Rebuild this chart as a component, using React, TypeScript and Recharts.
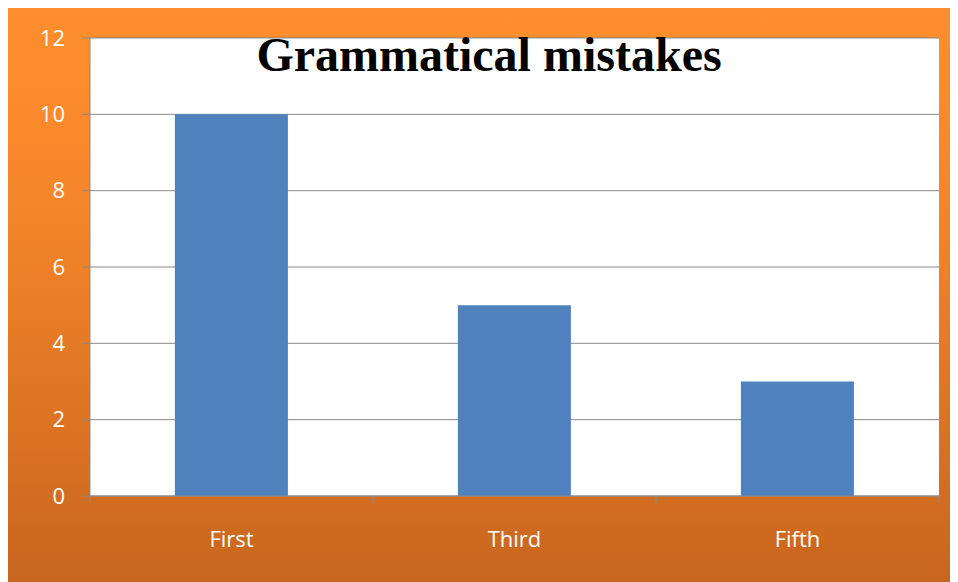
import { BarChart, Bar, XAxis, YAxis, CartesianGrid } from "recharts";

const categories = ["First", "Third", "Fifth"];
const mistakes = [10, 5, 3];
const yTicks = [0, 2, 4, 6, 8, 10, 12];

const chartData = categories.map((name, i) => ({ name, mistakes: mistakes[i] }));

const GRID = "#8a8a8a";

// label plus the little tick marks that sit on the category edges
function EdgeTick(props: any) {
  const { x, y, payload } = props;
  const half = payload && typeof payload.offset === "number" ? payload.offset : 0;
  const axisY = y - 8;
  return (
    <g>
      {half > 0 && (
        <>
          <line x1={x - half} x2={x - half} y1={axisY} y2={axisY + 7} stroke={GRID} />
          <line x1={x + half} x2={x + half} y1={axisY} y2={axisY + 7} stroke={GRID} />
        </>
      )}
      <text x={x} y={y + 27} textAnchor="middle" dy="0.71em" fill="#fff" fontSize={22} fontFamily="'Open Sans', sans-serif">
        {payload.value}
      </text>
    </g>
  );
}

export default function App() {
  return (
    <div
      style={{
        position: "relative",
        width: 950,
        height: 575,
        marginTop: -1,
        background: "linear-gradient(180deg, #ff8f2c 0%, #f5852a 35%, #c8661e 100%)",
      }}
    >
      <BarChart width={950} height={575} data={chartData} margin={{ top: 31, right: 19, left: 0, bottom: 0 }} barCategoryGap="30%">
        <CartesianGrid vertical={false} stroke={GRID} fill="#ffffff" fillOpacity={1} />
        <XAxis
          dataKey="name"
          height={86}
          axisLine={{ stroke: GRID }}
          tickLine={false}
          tick={<EdgeTick />}
          interval={0}
        />
        <YAxis
          width={82}
          domain={[0, 12]}
          ticks={yTicks}
          axisLine={{ stroke: GRID }}
          tickLine={{ stroke: GRID }}
          tickSize={8}
          tickMargin={17}
          tick={{ fill: "#fff", fontSize: 22, fontFamily: "'Open Sans', sans-serif" }}
        />
        <Bar dataKey="mistakes" fill="#4f81bd" isAnimationActive={false} />
      </BarChart>
      <div
        style={{
          position: "absolute",
          left: 0,
          width: 962,
          top: 21,
          textAlign: "center",
          fontFamily: "'Liberation Serif', 'Times New Roman', serif",
          fontWeight: "bold",
          fontSize: 48,
          color: "#000",
          lineHeight: "54px",
        }}
      >
        Grammatical mistakes
      </div>
    </div>
  );
}
